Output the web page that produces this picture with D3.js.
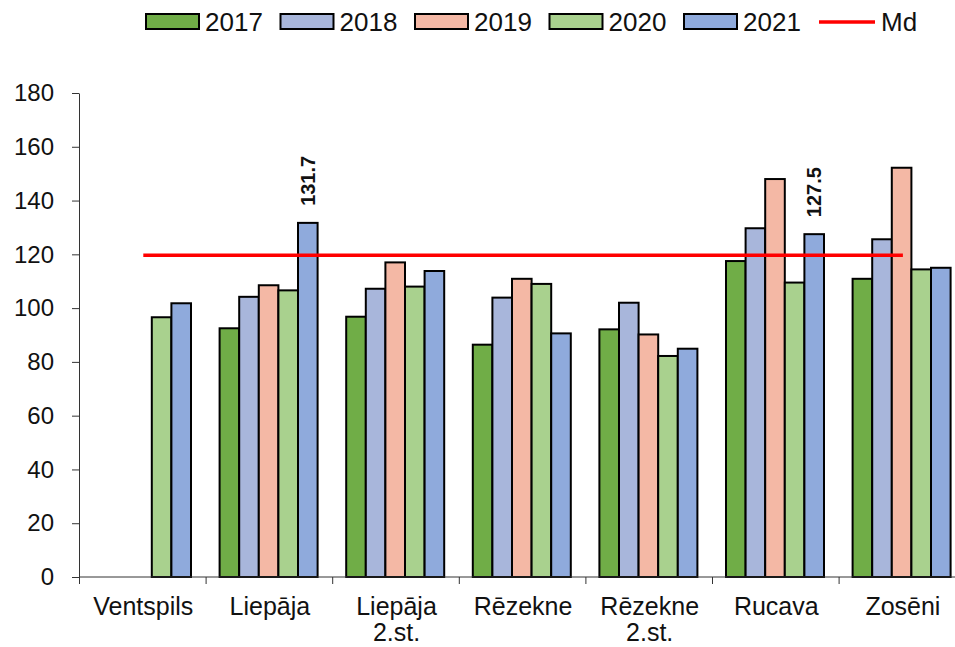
<!DOCTYPE html>
<html>
<head>
<meta charset="utf-8">
<script src="https://cdn.jsdelivr.net/npm/d3@7"></script>
<style>
  body { margin: 0; background: #fff; }
  svg { display: block; font-family: "Liberation Sans", Arial, sans-serif; }
</style>
</head>
<body>
<svg id="chart" width="955" height="647"></svg>
<script>
// data
const stations = ["Ventspils", "Liepāja", "Liepāja\n2.st.", "Rēzekne", "Rēzekne\n2.st.", "Rucava", "Zosēni"];
const years = ["2017", "2018", "2019", "2020", "2021"];
const v2017 = [null, 92.5, 96.8, 86.4, 92.1, 117.5, 110.9];
const v2018 = [null, 104.2, 107.2, 103.9, 102.0, 129.7, 125.6];
const v2019 = [null, 108.5, 117.0, 110.9, 90.2, 148.0, 152.2];
const v2020 = [96.6, 106.6, 108.0, 109.0, 82.2, 109.5, 114.4];
const v2021 = [101.8, 131.7, 113.8, 90.6, 84.9, 127.5, 115.0];
const median = 119.7;
const yTicks = [0, 20, 40, 60, 80, 100, 120, 140, 160, 180];
// bars that carry a value label
const labelled = [{ station: "Liepāja", year: "2021", text: "131.7" },
                  { station: "Rucava", year: "2021", text: "127.5" }];

const colors = {
  "2017": "#70ad47", "2018": "#a8b6db", "2019": "#f4b8a5",
  "2020": "#a9d18e", "2021": "#8faadc"
};
const series = { "2017": v2017, "2018": v2018, "2019": v2019, "2020": v2020, "2021": v2021 };

const svg = d3.select("#chart");
const left = 80, bandW = 126.6;

const x = d3.scaleBand().domain(stations).range([left, left + bandW * stations.length]);
const x1 = d3.scaleBand().domain(years).range([13, 111]);
const y = d3.scaleLinear().domain([0, 180]).range([577, 93]);

// bars
const rows = [];
stations.forEach((s, i) => years.forEach(yr => {
  const v = series[yr][i];
  if (v != null) rows.push({ station: s, year: yr, value: v });
}));

svg.append("g")
  .selectAll("rect")
  .data(rows)
  .join("rect")
  .attr("x", d => x(d.station) + x1(d.year))
  .attr("y", d => y(d.value))
  .attr("width", x1.bandwidth())
  .attr("height", d => y(0) - y(d.value))
  .attr("fill", d => colors[d.year])
  .attr("stroke", "#000")
  .attr("stroke-width", 2);

// median line from first to last station centre
svg.append("line")
  .attr("x1", x(stations[0]) + x.bandwidth() / 2)
  .attr("x2", x(stations[stations.length - 1]) + x.bandwidth() / 2)
  .attr("y1", y(median))
  .attr("y2", y(median))
  .attr("stroke", "#ff0000")
  .attr("stroke-width", 3.5);

// value labels, rotated
svg.append("g")
  .selectAll("text")
  .data(labelled)
  .join("text")
  .attr("transform", d => {
    const i = stations.indexOf(d.station);
    const cx = x(d.station) + x1(d.year) + x1.bandwidth() / 2;
    return `translate(${cx + 7},${y(series[d.year][i]) - 17}) rotate(-90)`;
  })
  .attr("font-size", 20)
  .attr("font-weight", "bold")
  .attr("fill", "#111")
  .text(d => d.text);

// y axis
const yAxis = svg.append("g")
  .attr("transform", `translate(${left - 1},0)`)
  .call(d3.axisLeft(y).tickValues(yTicks).tickSize(7).tickPadding(18).tickSizeOuter(0));
yAxis.select(".domain").attr("stroke", "#333");
yAxis.selectAll(".tick line").attr("stroke", "#333");
yAxis.selectAll(".tick text")
  .attr("font-size", 24)
  .attr("font-family", "Liberation Sans, Arial, sans-serif")
  .attr("fill", "#111");

// x axis: baseline with ticks on band boundaries
const xa = svg.append("g");
xa.append("line")
  .attr("x1", left - 1).attr("x2", 955)
  .attr("y1", y(0)).attr("y2", y(0))
  .attr("stroke", "#333");
xa.selectAll("line.tk")
  .data(stations)
  .join("line")
  .attr("class", "tk")
  .attr("x1", d => x(d) - 0.5).attr("x2", d => x(d) - 0.5)
  .attr("y1", y(0)).attr("y2", y(0) + 7)
  .attr("stroke", "#333");

// two-line labels: one text element per line
const labelLines = [];
stations.forEach(s => s.split("\n").forEach((t, i) => labelLines.push({ station: s, line: i, text: t })));
xa.selectAll("text")
  .data(labelLines)
  .join("text")
  .attr("text-anchor", "middle")
  .attr("font-size", 25)
  .attr("fill", "#111")
  .attr("x", d => x(d.station) + x.bandwidth() / 2)
  .attr("y", d => 615 + d.line * 26)
  .text(d => d.text);

// legend
const lg = svg.append("g");
years.forEach((yr, i) => {
  const lx = 146 + i * 134.5;
  lg.append("rect")
    .attr("x", lx).attr("y", 14).attr("width", 53).attr("height", 15)
    .attr("fill", colors[yr]).attr("stroke", "#000").attr("stroke-width", 2);
  lg.append("text")
    .attr("x", lx + 59).attr("y", 31)
    .attr("font-size", 26).attr("fill", "#111")
    .text(yr);
});
lg.append("line")
  .attr("x1", 819).attr("x2", 875).attr("y1", 22).attr("y2", 22)
  .attr("stroke", "#ff0000").attr("stroke-width", 3.5);
lg.append("text")
  .attr("x", 881).attr("y", 31)
  .attr("font-size", 26).attr("fill", "#111")
  .text("Md");
</script>
</body>
</html>
